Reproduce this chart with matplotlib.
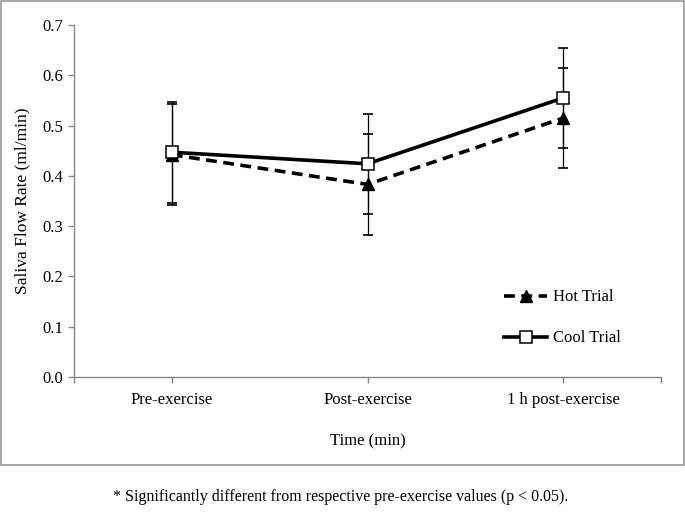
import matplotlib
matplotlib.use("Agg")
import matplotlib.pyplot as plt
from matplotlib.patches import Rectangle

plt.rcParams['font.family'] = ['Liberation Serif', 'DejaVu Serif']

# data
times = ["Pre-exercise", "Post-exercise", "1 h post-exercise"]
hot_mean = [0.442, 0.383, 0.515]
hot_sd = [0.100, 0.100, 0.100]
cool_mean = [0.447, 0.424, 0.555]
cool_sd = [0.100, 0.100, 0.100]
yticks = [0.0, 0.1, 0.2, 0.3, 0.4, 0.5, 0.6, 0.7]

fig = plt.figure(figsize=(6.85, 5.13), dpi=100)
ax = fig.add_axes([74/685, (513-377)/513, 587/685, 352/513])

x = list(range(len(times)))

# error bars first, thin with caps
ax.errorbar(x, hot_mean, yerr=hot_sd, fmt='none', ecolor='black',
            elinewidth=0.9, capsize=3.5, capthick=1.2, zorder=2)
ax.errorbar(x, cool_mean, yerr=cool_sd, fmt='none', ecolor='black',
            elinewidth=0.9, capsize=3.5, capthick=1.2, zorder=2)

ax.plot(x, hot_mean, ls=(0, (3, 1.8)), lw=2.6, color='black', marker='^',
        ms=8, mfc='black', mec='black', label='Hot Trial', zorder=3)
ax.plot(x, cool_mean, ls='-', lw=2.6, color='black', marker='s',
        ms=8.5, mfc='white', mec='black', mew=1.1, label='Cool Trial', zorder=4)

ax.set_xlim(-0.5, 2.5)
ax.set_ylim(0, 0.7)
ax.set_xticks([-0.5, 0, 1, 2, 2.5])
ax.set_xticklabels(["", times[0], times[1], times[2], ""])
ax.set_yticks(yticks)
ax.set_yticklabels([f"{v:.1f}" for v in yticks])

for s in ['top', 'right']:
    ax.spines[s].set_visible(False)
for s in ['left', 'bottom']:
    ax.spines[s].set_color('#888888')
    ax.spines[s].set_linewidth(1)
ax.tick_params(axis='both', colors='#888888', labelcolor='black',
               labelsize=12, length=4, width=1)
ax.tick_params(axis='x', pad=7)

ax.set_ylabel("Saliva Flow Rate (ml/min)", fontsize=12.5, labelpad=9)
ax.set_xlabel("Time (min)", fontsize=12, labelpad=18)

ax.legend(loc='center left', bbox_to_anchor=(0.707, 0.168), frameon=False,
          fontsize=12, handlelength=2.6, labelspacing=1.5, handletextpad=0.35)

# outer frame round the chart area
fig.patches.append(Rectangle((1/685, (513-465)/513), 683/685, 464/513,
                             transform=fig.transFigure, fill=False,
                             edgecolor='#999999', lw=1.2))

fig.text(0.497, 0.031,
         "* Significantly different from respective pre-exercise values (p < 0.05).",
         ha='center', va='center', fontsize=11.5)

fig.savefig("out.png", dpi=100)
